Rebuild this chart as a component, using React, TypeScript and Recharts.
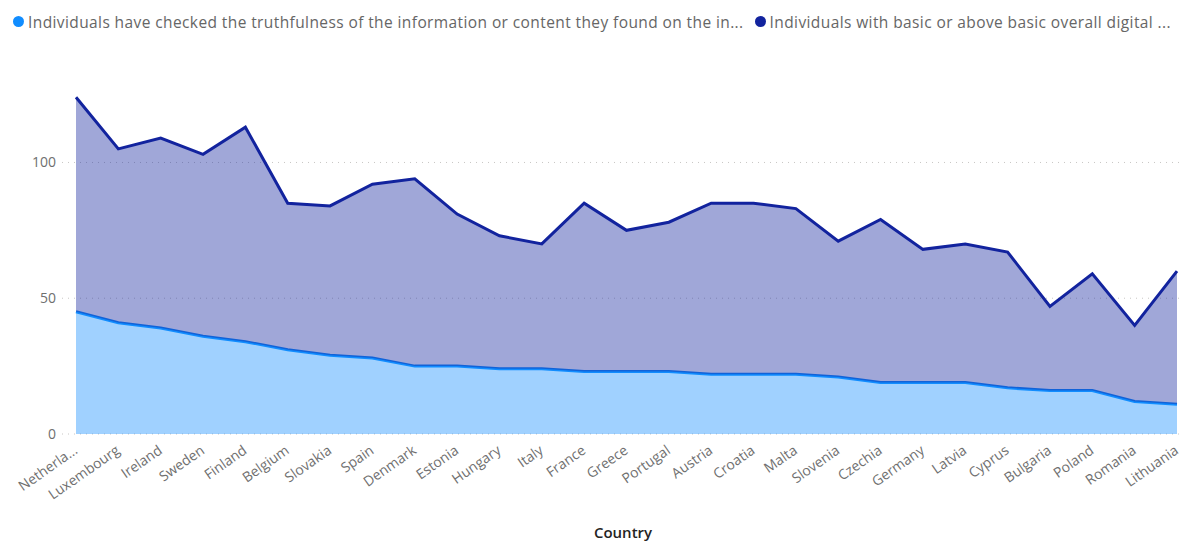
import { AreaChart, Area, XAxis, YAxis, CartesianGrid } from 'recharts';

const countries = [
  'Netherlands', 'Luxembourg', 'Ireland', 'Sweden', 'Finland', 'Belgium', 'Slovakia',
  'Spain', 'Denmark', 'Estonia', 'Hungary', 'Italy', 'France', 'Greece', 'Portugal',
  'Austria', 'Croatia', 'Malta', 'Slovenia', 'Czechia', 'Germany', 'Latvia', 'Cyprus',
  'Bulgaria', 'Poland', 'Romania', 'Lithuania',
];

// what the axis shows (Power BI cuts the first one short)
const tickLabels = [
  'Netherla...', 'Luxembourg', 'Ireland', 'Sweden', 'Finland', 'Belgium', 'Slovakia',
  'Spain', 'Denmark', 'Estonia', 'Hungary', 'Italy', 'France', 'Greece', 'Portugal',
  'Austria', 'Croatia', 'Malta', 'Slovenia', 'Czechia', 'Germany', 'Latvia', 'Cyprus',
  'Bulgaria', 'Poland', 'Romania', 'Lithuania',
];

const checkedTruth = [
  45, 41, 39, 36, 34, 31, 29, 28, 25, 25, 24, 24, 23, 23, 23,
  22, 22, 22, 21, 19, 19, 19, 17, 16, 16, 12, 11,
];

const digitalSkills = [
  79, 64, 70, 67, 79, 54, 55, 64, 69, 56, 49, 46, 62, 52, 55,
  63, 63, 61, 50, 60, 49, 51, 50, 31, 43, 28, 49,
];

const yTicks = [0, 50, 100];

const truthName =
  'Individuals have checked the truthfulness of the information or content they found on the in...';
const skillsName = 'Individuals with basic or above basic overall digital ...';

const LIGHT = '#118DFF';
const DARK = '#12239E';
const FONT = '"Open Sans", "Noto Sans", sans-serif';

const data = countries.map((country, i) => ({
  country,
  truth: checkedTruth[i],
  skills: digitalSkills[i],
}));

function CountryTick({ x, y, index }: any) {
  return (
    <g transform={`translate(${x},${y})`}>
      <text
        x={-4}
        y={10}
        transform="rotate(-35)"
        textAnchor="end"
        fontSize={14}
        fill="#6f6f6f"
        fontFamily={FONT}
      >
        {tickLabels[index]}
      </text>
    </g>
  );
}

function LegendItem({ color, text }: { color: string; text: string }) {
  return (
    <span style={{ display: 'inline-flex', alignItems: 'center', marginRight: 11 }}>
      <span
        style={{
          width: 11,
          height: 11,
          borderRadius: '50%',
          background: color,
          display: 'inline-block',
          marginRight: 4,
        }}
      />
      {text}
    </span>
  );
}

export default function App() {
  return (
    <div style={{ position: 'absolute', left: 0, top: 0, width: 1184, height: 543, background: '#fff', fontFamily: FONT }}>
      <div
        style={{
          position: 'absolute',
          left: 13,
          top: 10,
          fontSize: 15.5,
          letterSpacing: 0.4,
          color: '#666',
          whiteSpace: 'nowrap',
          lineHeight: '22px',
        }}
      >
        <LegendItem color={LIGHT} text={truthName} />
        <LegendItem color={DARK} text={skillsName} />
      </div>
      <AreaChart
        width={1184}
        height={543}
        data={data}
        margin={{ top: 81, right: 0, left: 0, bottom: 0 }}
      >
        <CartesianGrid
          vertical={false}
          horizontalValues={yTicks}
          stroke="#c8c6c4"
          strokeDasharray="1 5"
        />
        <XAxis
          dataKey="country"
          interval={0}
          tick={<CountryTick />}
          tickLine={false}
          axisLine={false}
          height={109}
          padding={{ left: 14, right: 7 }}
          label={{
            value: 'Country',
            position: 'insideBottom',
            offset: 5,
            fill: '#252423',
            fontSize: 15,
            fontWeight: 600,
            fontFamily: FONT,
          }}
        />
        <YAxis
          domain={[0, 130]}
          ticks={yTicks}
          width={62}
          tickLine={false}
          axisLine={false}
          tickSize={0}
          tickMargin={6}
          tick={{ fontSize: 14, fill: '#6f6f6f', fontFamily: FONT }}
        />
        <Area
          type="linear"
          dataKey="truth"
          stackId="a"
          name={truthName}
          stroke={LIGHT}
          strokeWidth={3}
          fill={LIGHT}
          fillOpacity={0.4}
          isAnimationActive={false}
        />
        <Area
          type="linear"
          dataKey="skills"
          stackId="a"
          name={skillsName}
          stroke={DARK}
          strokeWidth={3}
          fill={DARK}
          fillOpacity={0.4}
          isAnimationActive={false}
        />
      </AreaChart>
    </div>
  );
}
